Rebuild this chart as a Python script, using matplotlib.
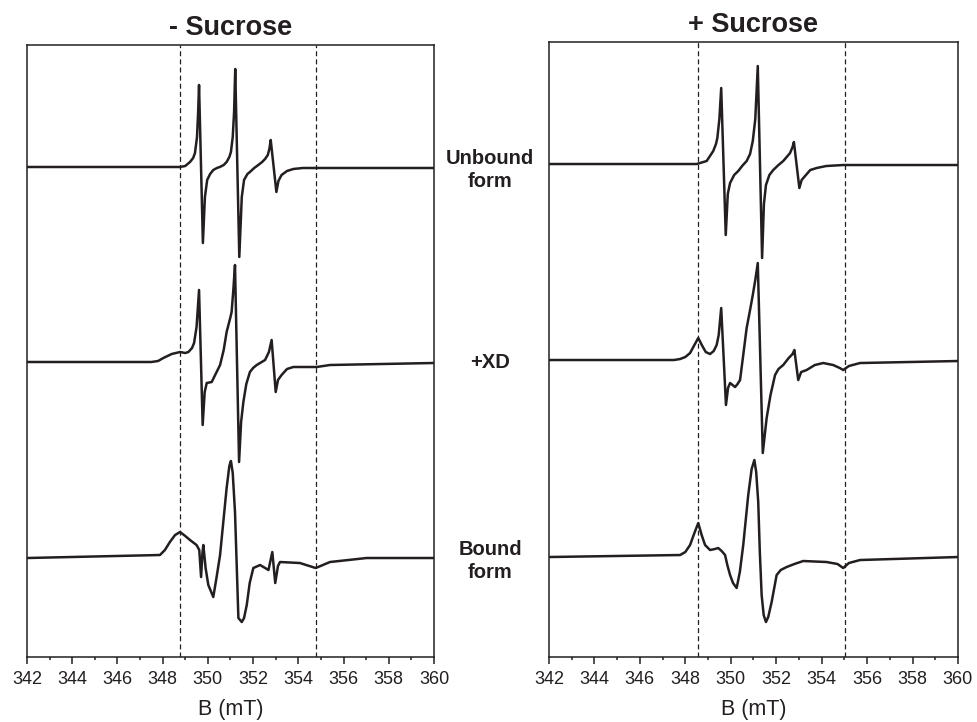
import numpy as np
import matplotlib
matplotlib.use("Agg")
from matplotlib import pyplot as plt

plt.rcParams['font.family'] = ['Liberation Sans', 'DejaVu Sans']

# magnetic field (mT) and signal amplitude (arb. units)
# - Sucrose
b_unb_minus = [342, 348.77, 349.0, 349.21, 349.35, 349.43, 349.52, 349.57, 349.61, 349.78, 349.87,
               349.97, 350.1, 350.24, 350.4, 350.53, 350.7, 350.83, 350.95, 351.02, 351.10, 351.16,
               351.21, 351.39, 351.50, 351.60, 351.75, 351.86, 352.05, 352.23, 352.4, 352.53, 352.65,
               352.72, 352.78, 353.03, 353.12, 353.26, 353.5, 353.78, 354.2, 360]
a_unb_minus = [0, 0, 1, 5, 9, 14, 30, 55, 82, -76, -30,
               -13, -7, -3, -1, 0, 2, 5, 10, 15, 30, 55,
               98, -90, -30, -13, -7, -5, -1, 2, 5, 8, 12,
               18, 27, -25, -14, -8, -4, -2, -1, -1]

b_xd_minus = [342, 347.5, 347.8, 348.03, 348.4, 348.77, 349.0, 349.14, 349.3, 349.39, 349.5,
              349.61, 349.77, 349.86, 349.95, 350.17, 350.3, 350.54, 350.7, 350.83, 351.0, 351.05,
              351.12, 351.20, 351.38, 351.47, 351.57, 351.7, 351.86, 352.0, 352.16, 352.53, 352.70,
              352.82, 353.0, 353.1, 353.26, 353.5, 353.78, 354.81, 355.40, 360]
a_xd_minus = [0, 0, 1, 4, 8, 10, 9, 10, 14, 19, 35,
              72, -63, -30, -21, -20, -14, -3, 12, 30, 45, 50,
              70, 97, -100, -60, -40, -22, -10, -6, -3, 2, 10,
              22, -30, -18, -13, -7, -5, -5, -3, -1]

b_bnd_minus = [342, 347.88, 348.1, 348.32, 348.55, 348.77, 349.0, 349.21, 349.50, 349.62, 349.70,
               349.76, 349.80, 349.9, 350.02, 350.24, 350.38, 350.54, 350.7, 350.83, 350.95, 351.02,
               351.10, 351.20, 351.28, 351.35, 351.50, 351.6, 351.72, 351.85, 352.01, 352.31, 352.68,
               352.85, 352.98, 353.1, 353.19, 354.07, 354.77, 355.40, 357.02, 360]
a_bnd_minus = [0, 3, 8, 16, 23, 26, 22, 18, 13, 8, -19,
               5, 13, -10, -27, -39, -20, 3, 40, 70, 92, 97,
               85, 46, -10, -60, -64, -60, -47, -25, -10, -7, -12,
               6, -25, -8, -4, -5, -10, -4, 0, 0]

# + Sucrose
b_unb_plus = [342, 348.50, 348.94, 349.23, 349.35, 349.41, 349.5, 349.58, 349.78, 349.87, 349.97,
              350.15, 350.33, 350.5, 350.70, 350.85, 350.97, 351.08, 351.19, 351.38, 351.46, 351.55,
              351.7, 351.87, 352.1, 352.31, 352.5, 352.61, 352.72, 352.78, 353.02, 353.12, 353.27,
              353.5, 353.78, 354.2, 354.95, 360]
a_unb_plus = [0, 0, 3, 13, 20, 26, 45, 76, -71, -30, -19,
              -11, -7, -2, 3, 10, 23, 45, 98, -94, -40, -21,
              -11, -6, -1, 3, 8, 11, 17, 22, -24, -16, -12,
              -6, -4, -2, -1, -1]

b_xd_plus = [342, 347.5, 347.77, 348.0, 348.21, 348.4, 348.57, 348.75, 348.9, 349.09, 349.25,
             349.38, 349.47, 349.58, 349.79, 349.88, 349.97, 350.08, 350.19, 350.3, 350.41, 350.55,
             350.70, 350.85, 350.97, 351.08, 351.19, 351.41, 351.58, 351.75, 351.95, 352.1, 352.31,
             352.55, 352.72, 352.80, 352.97, 353.1, 353.34, 353.7, 354.07, 354.51, 354.8, 354.95,
             355.2, 355.69, 360]
a_xd_plus = [0, 0, 1, 3, 7, 15, 22, 14, 8, 6, 9,
             15, 25, 52, -45, -28, -23, -25, -27, -24, -20, 5,
             32, 50, 65, 80, 97, -93, -58, -35, -15, -9, -5,
             2, 6, 10, -20, -12, -10, -5, -3, -5, -8, -10,
             -6, -3, -1]

b_bnd_plus = [342, 347.77, 348.0, 348.21, 348.4, 348.57, 348.72, 348.87, 349.09, 349.3, 349.45,
              349.6, 349.75, 349.85, 349.97, 350.1, 350.26, 350.4, 350.55, 350.77, 350.92, 351.04,
              351.12, 351.21, 351.28, 351.36, 351.45, 351.55, 351.65, 351.80, 352.02, 352.2, 352.46,
              352.8, 353.19, 354.22, 354.7, 354.95, 355.2, 355.69, 360]
a_bnd_plus = [0, 2, 5, 12, 24, 34, 22, 12, 7, 8, 9,
              6, 2, -8, -18, -26, -31, -15, 12, 62, 88, 97,
              85, 55, 5, -38, -58, -65, -60, -45, -18, -13, -10,
              -7, -4, -5, -7, -11, -6, -3, 0]

titles = ['- Sucrose', '+ Sucrose']
row_labels = ['Unbound\nform', '+XD', 'Bound\nform']
dash_minus = [348.77, 354.78]
dash_plus = [348.57, 355.04]

ink = '#231f20'
fig = plt.figure(figsize=(9.77, 7.22), dpi=100)
ax1 = fig.add_axes([0.0276, 0.090, 0.4166, 0.8477])
ax2 = fig.add_axes([0.5619, 0.090, 0.4186, 0.8518])

offsets_minus = [555, 360, 164]
offsets_plus = [558, 362, 165]

panels = [
    (ax1, [(b_unb_minus, a_unb_minus), (b_xd_minus, a_xd_minus), (b_bnd_minus, a_bnd_minus)], offsets_minus, dash_minus, titles[0], (65, 677)),
    (ax2, [(b_unb_plus, a_unb_plus), (b_xd_plus, a_xd_plus), (b_bnd_plus, a_bnd_plus)], offsets_plus, dash_plus, titles[1], (65, 680)),
]

for ax, traces, offs, dashes, title, ylim in panels:
    for (b, a), off in zip(traces, offs):
        ax.plot(b, np.array(a) + off, color=ink, lw=1.8, solid_joinstyle='round')
    for d in dashes:
        ax.axvline(d, color=ink, lw=0.9, ls=(0, (4, 2.5)))
    ax.set_xlim(342, 360)
    ax.set_ylim(*ylim)
    ax.set_xticks(np.arange(342, 361, 2))
    ax.set_xticks(np.arange(342, 361, 1), minor=True)
    ax.tick_params(axis='x', which='major', direction='out', length=5, width=1.1,
                   labelsize=13, pad=5, colors=ink)
    ax.tick_params(axis='x', which='minor', direction='out', length=2.5, width=1.1, colors=ink)
    ax.set_yticks([])
    for s in ax.spines.values():
        s.set_linewidth(1.1)
        s.set_color(ink)
    ax.set_xlabel('B (mT)', fontsize=15.5, labelpad=8, color=ink)
    ax.set_title(title, fontsize=19.5, fontweight='bold', color=ink, pad=7)

for lab, ypix in zip(row_labels, [170, 362, 561]):
    fig.text(490 / 977, 1 - ypix / 722, lab, ha='center', va='center', fontsize=14.5,
             fontweight='bold', color=ink, linespacing=1.3)

fig.savefig('out.png', dpi=100)
